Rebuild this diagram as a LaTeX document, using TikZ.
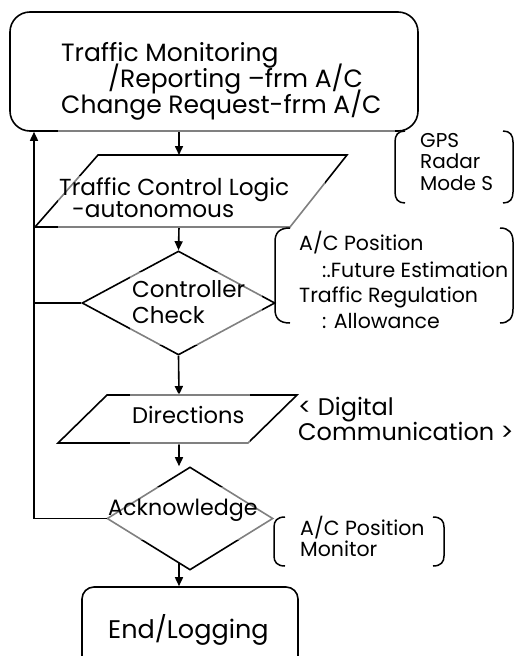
\documentclass[tikz,border=0pt]{standalone}
\usepackage{fontspec}
\setmainfont{Poppins}
\usetikzlibrary{arrows.meta,shapes.geometric}
\begin{document}
\begin{tikzpicture}[x=1pt,y=-1pt,
  line/.style={line width=1.6pt, draw=black},
  flow/.style={line, -{Triangle[length=9pt,width=8pt]}},
  brk/.style={line width=1.5pt, draw=black},
  txt/.style={anchor=base west, inner sep=0pt, font=\fontsize{#1}{#1}\selectfont},
  veil/.style={fill=white, opacity=0.5},
]
\useasboundingbox (0,0) rectangle (515,656);

% --- process boxes -------------------------------------------------
\node[line, rounded corners=20pt, minimum width=408pt, minimum height=119pt, inner sep=0pt] (mon) at (214,71.5) {};
\node[line, rounded corners=12pt, minimum width=216pt, minimum height=100pt, inner sep=0pt] (fin) at (190,637) {};

% --- input/output parallelograms ----------------------------------
\draw[line] (98,155) -- (347,155) -- (290,227) -- (35,227) -- cycle;
\coordinate (p1top) at (179,155);
\coordinate (p1bot) at (179,227);
\draw[line] (107,395) -- (297,395) -- (248,443) -- (58,443) -- cycle;
\coordinate (p2top) at (179,395);
\coordinate (p2bot) at (179,443);

% --- decisions -----------------------------------------------------
\node[diamond, line, minimum width=193pt, minimum height=104pt, inner sep=0pt] (chk) at (178.5,303) {};
\node[diamond, line, minimum width=166pt, minimum height=103pt, inner sep=0pt] (ack) at (190,518.5) {};
\coordinate (ackexit) at (179,563);
\coordinate (rail) at (34,0);

% --- connectors ----------------------------------------------------
\draw[flow] (p1top |- mon.south) -- (p1top);
\draw[flow] (p1bot) -- (chk.north);
\draw[flow] (chk.south) -- (p2top);
\draw[flow] (p2bot) -- (p2bot |- ack.north);
\draw[flow] (ackexit) -- (ackexit |- fin.north);
\draw[flow] (ack.west) -| (rail |- mon.south);
\draw[line] (chk.west) -- (chk.west -| rail);

% --- pale panels behind the labels (lines show through in grey) ----
\fill[veil] (58,35) rectangle (395,132);
\fill[veil] (58,176) rectangle (325,228);
\fill[veil] (130,272) rectangle (262,345);
\fill[veil] (130,393) rectangle (250,445);
\fill[veil] (107,487) rectangle (274,540);

% --- texts inside the shapes --------------------------------------
\node[txt=25] (t1) at (61,61) {Traffic Monitoring};
\node[txt=25] (t2) at (108,87) {/Reporting –frm A/C};
\node[txt=25] (t3) at (61,113) {Change Request-frm A/C};
\node[txt=23.2] (t4) at (59,195) {Traffic Control Logic};
\node[txt=23.2] (t5) at (72,217) {-autonomous};
\node[txt=23] (t6) at (132,297) {Controller};
\node[txt=23] (t7) at (132,323) {Check};
\node[txt=22.6] (t8) at (132,423) {Directions};
\node[txt=22.2] (t9) at (108,515) {Acknowledge};
\node[txt=25.5] (t10) at (108,638) {End/Logging};

% --- side notes ----------------------------------------------------
\node[txt=20] (g1) at (420,147) {GPS};
\node[txt=20] (g2) at (420,168) {Radar};
\node[txt=20] (g3) at (420,190) {Mode S};
\node[txt=20.5] (c1) at (299,250) {A/C Position};
\node[txt=20.5] (c2) at (322,277) {:.Future Estimation};
\node[txt=20.5] (c3) at (299,302) {Traffic Regulation};
\node[txt=20.5] (c4) at (322,328) {: Allowance};
\node[txt=24] (d1) at (298,415) {< Digital};
\node[txt=24] (d2) at (298,440) {Communication >};
\node[txt=20.5] (m1) at (300,535) {A/C Position};
\node[txt=20.5] (m2) at (300,556) {Monitor};

% --- brackets round the side notes ---------------------------------
\draw[brk] (405,131) .. controls (398,131) and (395,135) .. (395,142) -- (395,192) .. controls (395,199) and (398,203) .. (405,203);
\draw[brk] (503,131) .. controls (510,131) and (513,135) .. (513,142) -- (513,192) .. controls (513,199) and (510,203) .. (503,203);

\draw[brk] (290,228) .. controls (279,228) and (275,233) .. (275,242) -- (275,309) .. controls (275,318) and (279,323) .. (290,323);
\draw[brk] (500,228) .. controls (509,228) and (513,233) .. (513,242) -- (513,309) .. controls (513,318) and (509,323) .. (500,323);

\draw[brk] (285,517) .. controls (277,517) and (274,521) .. (274,527) -- (274,556) .. controls (274,562) and (277,566) .. (285,566);
\draw[brk] (433,517) .. controls (441,517) and (444,521) .. (444,527) -- (444,556) .. controls (444,562) and (441,566) .. (433,566);
\end{tikzpicture}
\end{document}
